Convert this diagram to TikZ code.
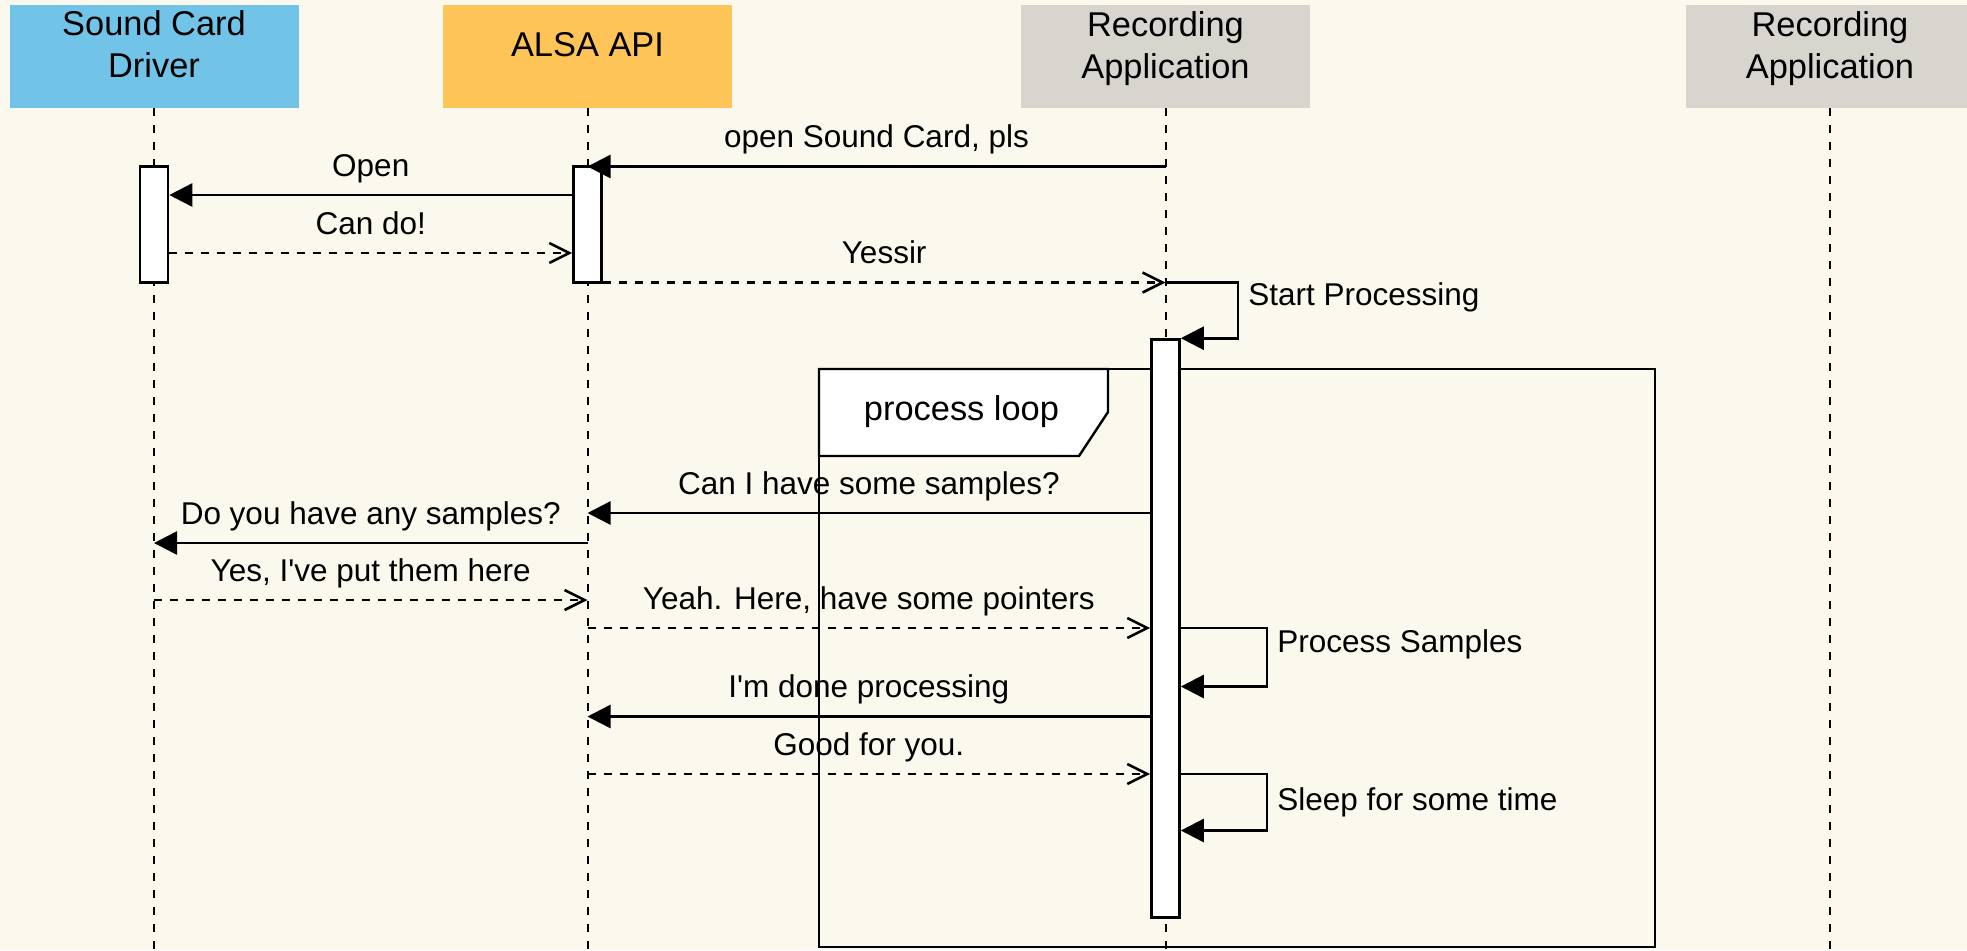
\documentclass[tikz,border=0pt]{standalone}
\usepackage{fontspec}
\setmainfont{Liberation Sans}
\usetikzlibrary{arrows.meta}
\definecolor{paper}{RGB}{251,249,238}
\definecolor{driverblue}{RGB}{113,196,232}
\definecolor{alsaorange}{RGB}{255,196,87}
\definecolor{appgrey}{RGB}{216,212,206}
\begin{document}
\begin{tikzpicture}[
      x=0.5pt, y=-0.5pt,
      header/.style={minimum width=144.5pt,minimum height=51.5pt,inner sep=0pt},
      headtext/.style={align=center,font=\fontsize{17.2}{21}\selectfont},
      lifeline/.style={line width=1pt,dash pattern=on 4pt off 4.5pt},
      activation/.style={draw,line width=1.3pt,fill=white,minimum width=14pt,inner sep=0pt},
      call/.style={line width=1.3pt,-{Triangle[length=11.5pt,width=11.5pt]}},
      reply/.style={line width=1.3pt,dash pattern=on 4pt off 4pt,-{Straight Barb[length=10pt,width=10pt]}},
      msgtext/.style={anchor=base,yshift=9.5pt,inner sep=0pt,font=\fontsize{15.75}{19}\selectfont},
      selftext/.style={anchor=base west,inner sep=0pt,font=\fontsize{15.75}{19}\selectfont},
      frame/.style={line width=1.2pt}
    ]
    \useasboundingbox (0,0) rectangle (1967,950);
    \clip (0,0) rectangle (1967,950);
    \fill[paper] (0,0) rectangle (1967,950);
    % Rows of the messages.
    \coordinate (bottom) at (0,950);
    \coordinate (r1) at (0,166.5);
    \coordinate (r2) at (0,195);
    \coordinate (r3) at (0,253);
    \coordinate (r4) at (0,282.5);
    \coordinate (r5) at (0,513);
    \coordinate (r6) at (0,543);
    \coordinate (r7) at (0,600);
    \coordinate (r8) at (0,628);
    \coordinate (r8b) at (0,686.5);
    \coordinate (r9) at (0,716.5);
    \coordinate (r10) at (0,774);
    \coordinate (r10b) at (0,830.5);
    \coordinate (loopa) at (1238,0);
    \coordinate (loopb) at (1267,0);
    % Draw the headers.
    \node[header,fill=driverblue] (drv)  at (154,56.5)    {};
    \node[header,fill=alsaorange] (alsa) at (587.5,56.5)  {};
    \node[header,fill=appgrey]    (rec)  at (1165.5,56.5) {};
    \node[header,fill=appgrey]    (rec2) at (1830,56.5)   {};
    \node[headtext] (drvname)  at (154,44.5)    {Sound Card\\Driver};
    \node[headtext] (alsaname) at (587.5,44.5)  {ALSA API};
    \node[headtext] (recname)  at (1165.5,48.5) {Recording\\Application};
    \node[headtext] (rec2name) at (1830,48.5)   {Recording\\Application};
    % Draw the lifelines.
    \draw[lifeline] (drv.south)  -- (drv.south |- bottom);
    \draw[lifeline] (alsa.south) -- (alsa.south |- bottom);
    \draw[lifeline] (rec.south)  -- (rec.south |- bottom);
    \draw[lifeline] (rec2.south) -- (rec2.south |- bottom);
    % Draw the loop frame.
    \draw[frame] (819,369) rectangle (1655,947);
    \draw[frame,fill=white] (819,369) -- (1108,369) -- (1108,412) -- (1079,456) -- (819,456) -- cycle;
    \node[headtext,anchor=base,inner sep=0pt] (looplbl) at (961.5,420) {process loop};
    % Draw the activations.
    \node[activation,minimum height=58pt]  (drvbar)  at (154,224.5)    {};
    \node[activation,minimum height=58pt]  (alsabar) at (587.5,224.5)  {};
    \node[activation,minimum height=289pt] (recbar)  at (1165.5,628.5) {};
    % Draw the messages.
    \draw[call]  (rec.south |- r1) -- node[msgtext] {open Sound Card, pls} (alsa.south |- r1);
    \draw[call]  (alsabar.west |- r2) -- node[msgtext] {Open} (drvbar.east |- r2);
    \draw[reply] (drvbar.east |- r3) -- node[msgtext] {Can do!} (alsabar.west |- r3);
    \draw[reply] (alsabar.east |- r4) -- node[msgtext] {Yessir} (rec.south |- r4);
    \draw[call]  (rec.south |- r4) -| (loopa |- recbar.north) -- (recbar.north east);
    \node[selftext] (startlbl) at (1248,305) {Start Processing};
    \draw[call]  (recbar.west |- r5) -- node[msgtext] {Can I have some samples?} (alsa.south |- r5);
    \draw[call]  (alsa.south |- r6) -- node[msgtext] {Do you have any samples?} (drv.south |- r6);
    \draw[reply] (drv.south |- r7) -- node[msgtext] {Yes, I\textquotesingle ve put them here} (alsa.south |- r7);
    \draw[reply] (alsa.south |- r8) -- node[msgtext] {Yeah. Here, have some pointers} (recbar.west |- r8);
    \draw[call]  (recbar.east |- r8) -| (loopb |- r8b) -- (recbar.east |- r8b);
    \node[selftext] (proclbl) at (1277,652) {Process Samples};
    \draw[call]  (recbar.west |- r9) -- node[msgtext] {I\textquotesingle m done processing} (alsa.south |- r9);
    \draw[reply] (alsa.south |- r10) -- node[msgtext] {Good for you.} (recbar.west |- r10);
    \draw[call]  (recbar.east |- r10) -| (loopb |- r10b) -- (recbar.east |- r10b);
    \node[selftext] (sleeplbl) at (1277,810) {Sleep for some time};
\end{tikzpicture}
\end{document}
